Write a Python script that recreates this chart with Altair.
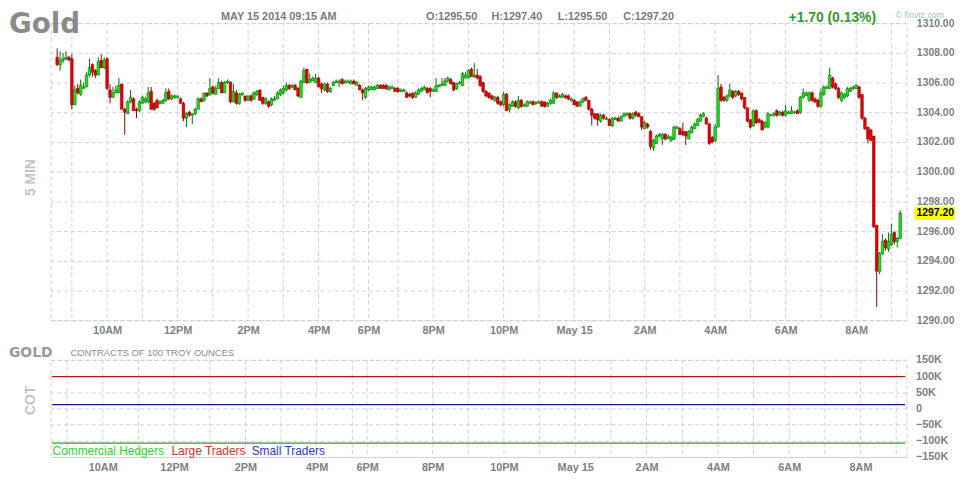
import json
import altair as alt
import pandas as pd

# ---------------- data ----------------
opens = [
1307.7,1307.2,1307.5,1307.6,1307.7,1307.6,1304.5,1305.6,1305.2,1305.6,1305.7,1306.5,1307.2,1306.8,1306.5,1307.5,1307.0,1307.6,1305.5,1305.0,
1305.3,1305.3,1305.9,1304.2,1303.9,1304.7,1304.9,1304.2,1304.1,1304.6,1304.7,1304.7,1305.4,1304.6,1304.8,1304.6,1304.6,1304.8,1305.4,1304.9,
1305.0,1305.0,1304.9,1304.6,1303.6,1304.0,1303.8,1303.9,1304.2,1304.9,1304.8,1305.3,1305.2,1305.7,1305.2,1305.6,1306.0,1305.3,1306.0,1306.0,
1304.7,1305.3,1304.6,1305.2,1305.1,1304.8,1305.1,1304.9,1305.2,1305.5,1305.0,1304.6,1304.7,1304.5,1304.8,1304.9,1305.2,1305.3,1305.5,1305.8,
1305.7,1305.8,1305.6,1305.0,1306.0,1306.9,1306.0,1306.1,1306.0,1306.3,1305.9,1305.5,1305.9,1305.4,1305.8,1306.0,1306.0,1306.2,1306.0,1306.0,
1305.9,1306.1,1305.8,1305.8,1305.5,1305.0,1305.5,1305.5,1305.5,1305.6,1305.8,1305.8,1305.8,1305.5,1305.6,1305.6,1305.6,1305.4,1305.4,1305.3,
1305.2,1305.3,1305.0,1305.2,1305.4,1305.5,1305.6,1305.6,1305.4,1305.4,1305.7,1305.8,1305.8,1306.1,1306.2,1306.0,1305.6,1305.9,1305.8,1306.3,
1306.3,1306.9,1306.4,1306.5,1306.4,1306.0,1305.4,1305.3,1305.1,1304.8,1305.0,1304.7,1304.5,1305.2,1304.2,1304.4,1304.7,1304.3,1304.8,1304.4,
1304.4,1304.6,1304.7,1304.6,1304.6,1304.7,1304.7,1304.4,1304.6,1304.6,1305.3,1305.0,1305.0,1305.1,1305.1,1304.8,1304.8,1304.7,1304.4,1304.7,
1305.0,1304.8,1304.2,1303.9,1303.9,1303.4,1303.8,1303.5,1303.5,1303.1,1303.5,1303.6,1303.4,1303.7,1303.8,1303.9,1303.6,1304.0,1303.9,1303.7,
1302.9,1303.2,1302.7,1301.6,1301.9,1302.4,1302.2,1302.5,1302.2,1302.1,1302.2,1302.9,1302.9,1302.7,1302.7,1302.2,1302.6,1302.9,1303.1,1303.4,
1303.7,1303.6,1303.2,1302.3,1302.1,1303.0,1305.7,1305.0,1304.8,1305.1,1305.4,1305.1,1305.4,1305.3,1305.0,1304.3,1303.5,1303.1,1304.1,1303.5,
1303.4,1303.0,1303.0,1303.8,1303.8,1304.1,1303.8,1304.0,1303.8,1303.9,1303.9,1304.0,1304.1,1304.0,1305.0,1305.1,1304.8,1305.3,1304.9,1304.8,
1304.4,1305.2,1305.6,1305.6,1306.3,1305.9,1305.6,1304.8,1305.0,1305.1,1305.4,1305.6,1305.6,1305.7,1305.2,1303.6,1303.0,1302.8,1302.4,1296.4,
1293.3,1294.5,1295.4,1294.8,1295.1,1295.9,1295.3,1295.5]
highs = [
1308.3,1308.1,1308.0,1308.1,1307.8,1307.9,1305.8,1305.9,1306.2,1306.0,1306.7,1307.6,1307.3,1306.9,1307.7,1307.9,1307.7,1307.7,1305.9,1305.7,
1305.8,1306.3,1305.9,1304.3,1304.8,1305.5,1305.0,1304.3,1304.8,1305.1,1305.0,1305.7,1305.7,1304.7,1304.9,1304.8,1304.9,1305.6,1305.6,1305.2,
1305.2,1305.1,1305.0,1304.7,1304.0,1304.1,1303.9,1304.3,1305.0,1305.0,1305.3,1305.3,1306.3,1305.8,1305.8,1306.3,1306.1,1306.1,1306.2,1306.1,
1305.9,1305.5,1305.3,1305.3,1305.1,1305.1,1305.2,1305.4,1305.5,1305.5,1305.0,1305.0,1304.8,1305.0,1305.1,1305.4,1305.6,1305.8,1306.0,1305.9,
1305.9,1305.9,1305.7,1306.2,1307.0,1306.9,1306.6,1306.4,1306.6,1306.4,1306.0,1306.0,1306.0,1305.7,1306.1,1306.2,1306.2,1306.3,1306.2,1306.2,
1306.2,1306.2,1306.1,1305.9,1305.6,1305.7,1305.8,1305.8,1305.8,1305.9,1305.9,1305.9,1305.9,1305.8,1305.8,1305.7,1305.7,1305.6,1305.6,1305.4,
1305.3,1305.3,1305.4,1305.6,1305.7,1305.8,1305.7,1305.7,1305.6,1306.3,1305.9,1306.3,1306.3,1306.4,1306.3,1306.0,1306.0,1306.1,1306.7,1306.7,
1306.9,1307.0,1307.3,1306.9,1306.5,1306.0,1305.5,1305.3,1305.2,1305.1,1305.1,1304.8,1305.4,1305.3,1304.6,1304.8,1304.8,1305.1,1304.9,1304.6,
1304.8,1304.8,1304.8,1304.7,1304.8,1304.8,1304.7,1304.7,1304.9,1305.4,1305.3,1305.2,1305.3,1305.2,1305.2,1305.0,1304.9,1304.7,1304.8,1305.0,
1305.1,1304.8,1304.3,1303.9,1303.9,1303.9,1303.9,1303.7,1303.6,1303.7,1303.7,1303.7,1303.8,1304.0,1304.0,1304.0,1304.0,1304.1,1304.0,1303.7,
1303.4,1303.3,1302.8,1302.2,1302.5,1302.6,1302.6,1302.6,1302.5,1302.4,1303.1,1303.1,1303.0,1303.3,1302.7,1302.8,1303.1,1303.3,1303.6,1303.9,
1304.0,1303.7,1303.3,1302.4,1303.2,1306.5,1305.9,1305.1,1305.2,1305.9,1305.5,1305.5,1305.5,1305.3,1305.0,1304.3,1303.5,1304.2,1304.2,1303.6,
1303.5,1303.4,1304.0,1303.9,1304.0,1304.2,1304.1,1304.1,1304.5,1304.1,1304.4,1304.1,1304.2,1305.1,1305.6,1305.4,1305.4,1305.4,1305.0,1304.9,
1305.6,1305.8,1305.8,1307.0,1306.4,1306.0,1305.7,1305.4,1305.3,1305.7,1305.7,1305.8,1305.9,1305.8,1305.2,1303.7,1303.0,1302.9,1302.4,1296.4,
1294.6,1295.8,1295.5,1295.9,1296.5,1296.0,1295.6,1297.4]
lows = [
1307.1,1306.8,1307.3,1307.5,1307.5,1304.2,1304.5,1305.2,1305.1,1305.6,1305.7,1306.4,1306.4,1306.3,1306.5,1307.0,1306.9,1305.5,1304.6,1305.0,
1305.3,1305.3,1304.2,1302.5,1303.9,1304.6,1304.1,1303.6,1304.0,1304.6,1304.6,1304.6,1304.2,1304.1,1304.3,1304.5,1304.6,1304.7,1304.8,1304.8,
1304.9,1304.9,1304.6,1303.4,1303.0,1303.7,1303.2,1303.8,1304.2,1304.7,1304.7,1305.0,1305.1,1305.2,1305.2,1305.6,1305.3,1305.3,1305.9,1304.6,
1304.7,1304.5,1304.5,1305.1,1304.7,1304.8,1304.7,1304.8,1305.1,1304.8,1304.5,1304.5,1304.3,1304.4,1304.8,1304.9,1305.1,1305.2,1305.4,1305.5,
1305.6,1305.5,1305.0,1305.0,1306.0,1305.9,1306.0,1306.1,1306.0,1305.7,1305.3,1305.4,1305.3,1305.3,1305.8,1306.0,1305.7,1305.9,1305.9,1306.0,
1305.9,1305.9,1305.8,1305.5,1304.8,1304.9,1305.4,1305.5,1305.5,1305.6,1305.6,1305.6,1305.5,1305.5,1305.6,1305.4,1305.3,1305.4,1305.4,1305.0,
1305.0,1304.9,1305.0,1305.2,1305.4,1305.5,1305.3,1305.0,1305.4,1305.4,1305.7,1305.8,1305.8,1306.0,1305.9,1305.4,1305.5,1305.9,1305.8,1306.3,
1306.3,1306.4,1306.3,1306.2,1305.7,1305.3,1305.0,1304.9,1304.8,1304.7,1304.5,1304.4,1304.4,1304.1,1304.0,1304.4,1304.3,1304.2,1304.3,1304.4,
1304.4,1304.6,1304.5,1304.5,1304.6,1304.4,1304.3,1304.4,1304.5,1304.6,1304.9,1305.0,1305.0,1304.9,1304.8,1304.7,1304.5,1304.4,1304.4,1304.6,
1304.8,1304.1,1303.1,1303.5,1303.1,1303.3,1303.5,1303.5,1303.1,1303.0,1303.5,1303.4,1303.4,1303.7,1303.8,1303.5,1303.5,1303.7,1303.7,1302.8,
1302.9,1302.9,1301.5,1301.4,1301.9,1302.3,1301.8,1302.1,1302.2,1302.0,1302.1,1302.9,1302.5,1302.4,1301.8,1302.2,1302.6,1302.9,1303.1,1303.4,
1303.7,1303.2,1301.8,1301.9,1302.0,1303.0,1304.7,1304.7,1304.7,1305.0,1304.9,1305.0,1305.1,1304.8,1304.2,1303.3,1302.9,1303.0,1303.2,1303.3,
1302.8,1302.9,1302.9,1303.7,1303.7,1303.7,1303.8,1303.7,1303.7,1303.9,1303.9,1303.9,1303.9,1303.9,1304.9,1305.1,1304.7,1304.7,1304.6,1304.3,
1304.3,1305.1,1305.6,1305.6,1305.6,1305.5,1304.9,1304.7,1304.9,1305.0,1305.4,1305.5,1305.6,1304.9,1303.5,1302.8,1301.9,1302.1,1296.2,1290.9,
1293.1,1294.4,1294.7,1294.6,1295.0,1295.1,1294.9,1295.5]
closes = [
1307.2,1307.5,1307.6,1307.7,1307.5,1304.5,1305.5,1305.3,1305.8,1305.7,1306.5,1307.0,1306.7,1306.5,1307.4,1307.0,1307.5,1305.6,1305.0,1305.3,
1305.5,1305.8,1304.2,1304.0,1304.7,1305.0,1304.1,1304.1,1304.7,1305.0,1304.9,1305.3,1304.2,1304.2,1304.3,1304.7,1304.8,1305.3,1304.9,1305.1,
1305.1,1305.1,1304.6,1303.6,1303.9,1303.8,1303.9,1304.2,1304.9,1304.7,1305.3,1305.1,1305.6,1305.3,1305.6,1306.0,1305.3,1306.0,1306.1,1304.7,
1305.4,1304.6,1305.2,1305.3,1304.8,1305.1,1304.8,1305.3,1305.4,1304.8,1304.6,1304.9,1304.4,1304.9,1304.9,1305.3,1305.5,1305.6,1305.8,1305.6,
1305.8,1305.5,1305.1,1306.1,1306.8,1306.0,1306.2,1306.3,1306.3,1305.7,1305.6,1305.9,1305.4,1305.6,1306.0,1306.1,1306.1,1305.9,1306.1,1306.1,
1306.1,1305.9,1306.0,1305.5,1305.3,1305.6,1305.7,1305.7,1305.7,1305.8,1305.6,1305.6,1305.6,1305.7,1305.7,1305.4,1305.4,1305.5,1305.5,1305.0,
1305.1,1305.0,1305.3,1305.5,1305.6,1305.7,1305.3,1305.4,1305.5,1305.8,1305.8,1305.9,1306.1,1306.3,1305.9,1305.5,1305.9,1306.0,1306.6,1306.5,
1306.8,1306.4,1306.5,1306.3,1305.8,1305.4,1305.1,1305.0,1304.9,1305.0,1304.6,1304.5,1305.2,1304.1,1304.5,1304.7,1304.4,1304.8,1304.4,1304.5,
1304.7,1304.7,1304.5,1304.7,1304.7,1304.4,1304.4,1304.6,1304.8,1305.3,1305.0,1305.1,1305.2,1305.0,1304.9,1304.9,1304.5,1304.4,1304.7,1304.9,
1304.8,1304.2,1303.8,1303.6,1303.5,1303.8,1303.6,1303.6,1303.1,1303.6,1303.6,1303.4,1303.7,1303.9,1303.9,1303.6,1303.9,1303.8,1303.7,1303.0,
1303.3,1303.0,1301.7,1302.1,1302.4,1302.5,1302.5,1302.2,1302.4,1302.3,1303.0,1303.0,1302.5,1302.5,1302.4,1302.7,1303.0,1303.2,1303.5,1303.8,
1303.9,1303.2,1301.9,1302.0,1303.0,1305.6,1304.8,1304.8,1305.1,1305.5,1305.0,1305.4,1305.2,1304.9,1304.3,1303.4,1303.0,1304.1,1303.3,1303.3,
1302.8,1303.3,1303.9,1303.8,1303.9,1303.8,1304.0,1303.8,1304.1,1304.0,1304.1,1304.0,1303.9,1305.0,1305.3,1305.3,1305.3,1304.8,1304.7,1304.4,
1305.3,1305.7,1305.7,1306.5,1305.7,1305.6,1305.0,1305.3,1305.2,1305.6,1305.6,1305.7,1305.8,1305.0,1303.6,1302.9,1302.2,1302.1,1296.3,1293.3,
1294.5,1295.3,1294.9,1295.3,1295.8,1295.3,1295.5,1297.2]

hour_grid_idx = [5, 17, 29, 41, 53, 65, 77, 89, 101, 106, 116, 128, 140, 152, 164, 176,
                 188, 200, 212, 224, 236, 248, 260, 272, 284]
label_idx = [17, 41, 65, 89, 106, 128, 152, 176, 200, 224, 248, 272]
label_txt = ["10AM", "12PM", "2PM", "4PM", "6PM", "8PM", "10PM", "May 15",
             "2AM", "4AM", "6AM", "8AM"]
price_ticks = [1290, 1292, 1294, 1296, 1298, 1300, 1302, 1304, 1306, 1308, 1310]

cot_names = ["Commercial Hedgers", "Large Traders", "Small Traders"]
cot_values = [-107000, 98000, 12000]
cot_ticks = [-150000, -100000, -50000, 0, 50000, 100000, 150000]

title_text = "Gold"
date_text = "MAY 15 2014 09:15 AM"
change_text = "+1.70 (0.13%)"

# ---------------- styling ----------------
W, H1, H2 = 864, 300, 98
GRID = "#d0d0d0"
DASH = [4, 3]
UP_FILL, UP_LINE = "#22e022", "#007000"
DN_FILL, DN_LINE = "#ee0000", "#850000"
FONT = "Liberation Sans"

n = len(closes)
df = pd.DataFrame({"i": list(range(n)), "open": opens, "high": highs,
                   "low": lows, "close": closes})
dummy = pd.DataFrame({"a": [0]})

x_scale = alt.Scale(domain=[-0.55, n - 1 + 0.45], nice=False, zero=False)
label_expr = f"{json.dumps(label_txt)}[indexof({json.dumps(label_idx)}, datum.value)]"


def x_axis(pad):
    return alt.Axis(values=label_idx, labelExpr=label_expr, grid=False, ticks=False,
                    domain=False, labelPadding=pad, title=None, labelOverlap=False,
                    labelFlush=False)


def txt(text, x, y, size, color, weight="normal", font=FONT, align="left",
        baseline="alphabetic", angle=None):
    kw = dict(text=text, fontSize=size, color=color, fontWeight=weight, font=font,
              align=align, baseline=baseline)
    if angle is not None:
        kw["angle"] = angle
    return alt.Chart(dummy).mark_text(**kw).encode(x=alt.value(x), y=alt.value(y))


up_cond = "datum.close >= datum.open"

y_scale = alt.Scale(domain=[1290, 1310], nice=False, zero=False)
y_axis = alt.Axis(orient="right", values=price_ticks, format=".2f", grid=True,
                  gridColor=GRID, gridDash=DASH, ticks=False, domain=False,
                  labelPadding=10, labelFontSize=10.5, title=None)
X1 = alt.X("i:Q", scale=x_scale, axis=x_axis(4))

grid_v = alt.Chart(pd.DataFrame({"i": hour_grid_idx})).mark_rule(
    color=GRID, strokeDash=DASH).encode(x=X1)

wicks = alt.Chart(df).mark_rule(strokeWidth=1).encode(
    x=X1,
    y=alt.Y("low:Q", scale=y_scale, axis=y_axis),
    y2="high:Q",
    color=alt.condition(up_cond, alt.value(UP_LINE), alt.value(DN_LINE)))

bodies = alt.Chart(df).mark_bar(width=2.6, strokeWidth=0.6).encode(
    x=X1,
    y=alt.Y("open:Q", scale=y_scale, axis=y_axis),
    y2="close:Q",
    fill=alt.condition(up_cond, alt.value(UP_FILL), alt.value(DN_FILL)),
    stroke=alt.condition(up_cond, alt.value(UP_LINE), alt.value(DN_LINE)))

last = closes[-1]
last_box = alt.Chart(dummy).mark_rect(color="#ffff00").encode(
    x=alt.value(872), x2=alt.value(913),
    y=alt.YDatum(last + 0.46, scale=y_scale, axis=y_axis), y2=alt.Y2Datum(last - 0.46))
last_txt = alt.Chart(dummy).mark_text(
    text=f"{last:.2f}", align="left", baseline="middle", fontSize=10.5,
    fontWeight="bold", font=FONT, color="#000000").encode(
    x=alt.value(874), y=alt.YDatum(last, scale=y_scale, axis=y_axis))

bounds_rect = alt.Chart(dummy).mark_rect(opacity=0).encode(
    x=alt.value(-42), x2=alt.value(-41), y=alt.value(-12), y2=alt.value(-11))

head = [
    txt(title_text, -42, 10, 28, "#8a8a8a", weight="bold", font="DejaVu Sans"),
    txt(date_text, 172, -3, 11, "#7a7a7a", weight="bold"),
    txt(f"O:{opens[-1]:.2f}", 379, -3, 11, "#7a7a7a", weight="bold"),
    txt(f"H:{highs[-1]:.2f}", 445, -3, 11, "#7a7a7a", weight="bold"),
    txt(f"L:{lows[-1]:.2f}", 512, -3, 11, "#7a7a7a", weight="bold"),
    txt(f"C:{closes[-1]:.2f}", 578, -3, 11, "#7a7a7a", weight="bold"),
    txt(change_text, 745, -1, 14, "#2f9a2f", weight="bold"),
    txt("\u00a9 finviz.com", 853, -5, 9, "#9cc0e0"),
    txt("5 MIN", -20, 156, 14, "#c4c4c4", weight="bold", align="center",
        baseline="middle", angle=270),
]

top = alt.layer(bounds_rect, grid_v, wicks, bodies, last_box, last_txt, *head).properties(
    width=W, height=H1)

# ---------------- COT panel ----------------
cot_df = pd.DataFrame({"series": cot_names, "value": cot_values})
cot_y_scale = alt.Scale(domain=[-150000, 150000], nice=False, zero=False)
cot_y_axis = alt.Axis(orient="right", values=cot_ticks,
                      labelExpr="datum.value == 0 ? '0' : format(datum.value / 1000, 'd') + 'K'",
                      grid=True, gridColor=GRID, gridDash=DASH, ticks=False, domain=False,
                      labelPadding=9, title=None)
X2 = alt.X("i:Q", scale=x_scale, axis=x_axis(5))

cot_grid_v = alt.Chart(pd.DataFrame({"i": hour_grid_idx})).mark_rule(
    color=GRID, strokeDash=DASH).encode(x=X2)

cot_lines = alt.Chart(cot_df).mark_rule(strokeWidth=1.3).encode(
    x=alt.XDatum(0, scale=x_scale, axis=x_axis(5)),
    x2=alt.X2Datum(n - 1),
    y=alt.Y("value:Q", scale=cot_y_scale, axis=cot_y_axis),
    color=alt.Color("series:N", scale=alt.Scale(domain=cot_names,
                    range=["#2ca02c", "#b01515", "#1515a0"]), legend=None))

cot_text = [
    txt("GOLD", -42, -3, 14, "#9a9a9a", weight="bold", font="DejaVu Sans"),
    txt("CONTRACTS OF 100 TROY OUNCES", 20, -4, 9.5, "#8a8a8a"),
    txt("COT", -20, 41, 14, "#c4c4c4", weight="bold", align="center",
        baseline="middle", angle=270),
    txt(cot_names[0], 2, 96, 12, "#33cc33"),
    txt(cot_names[1], 122, 96, 12, "#d03030"),
    txt(cot_names[2], 203, 96, 12, "#3535d0"),
]

bottom = alt.layer(cot_grid_v, cot_lines, *cot_text).properties(width=W, height=H2)

chart = alt.vconcat(top, bottom, spacing=40, bounds="flush").properties(
    padding=0
).configure_view(
    stroke="#cccccc", strokeDash=DASH
).configure_axis(
    labelFont=FONT, labelFontWeight="bold", labelColor="#7f7f7f", labelFontSize=11
)

chart.save("out.html", embed_options={"renderer": "svg", "actions": False})
